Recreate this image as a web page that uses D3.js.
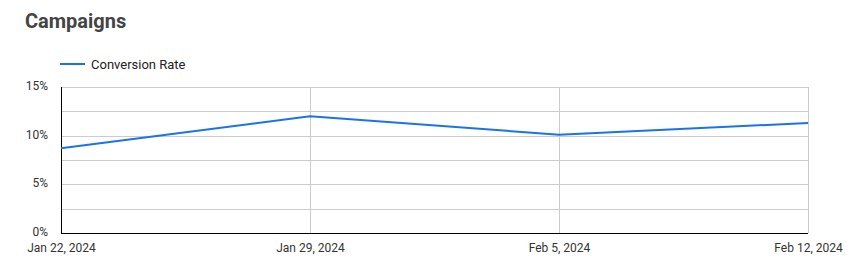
<!DOCTYPE html>
<html>
<head>
<meta charset="utf-8">
<script src="https://cdn.jsdelivr.net/npm/d3@7"></script>
<style>
	body { margin: 0; background: #fff; font-family: Roboto, "Noto Sans", sans-serif; }
	.grid line { stroke: #cccccc; stroke-width: 1; }
	.tick text { fill: #333; font-size: 12px; }
</style>
</head>
<body>
<div id="root"></div>
<script>
// chart data
const dates = ["2024-01-22", "2024-01-29", "2024-02-05", "2024-02-12"];
const conversionRate = [8.7, 12.0, 10.1, 11.3];
const yTicks = [0, 5, 10, 15];
const yGrid = [0, 2.5, 5, 7.5, 10, 12.5, 15];

function drawChart() {
	const width = 865;
	const height = 274;
	const margin = {top: 87, right: 57, bottom: 41, left: 61};

	const parse = d3.timeParse("%Y-%m-%d");
	const data = dates.map((d, i) => ({date: parse(d), value: conversionRate[i]}));

	let svg = d3.select("#root")
		.append("svg")
		.attr("width", width)
		.attr("height", height);

	// title
	svg.append("text")
		.attr("x", 25)
		.attr("y", 28)
		.attr("font-size", "20px")
		.attr("font-weight", "bold")
		.attr("fill", "#444")
		.text("Campaigns");

	// legend
	const legend = svg.append("g").attr("transform", "translate(60,64)");
	legend.append("line")
		.attr("x1", 0).attr("x2", 25)
		.attr("stroke", "#1a73e8")
		.attr("stroke-width", 2);
	legend.append("text")
		.attr("x", 31)
		.attr("y", 4.5)
		.attr("font-size", "13px")
		.attr("fill", "#222")
		.text("Conversion Rate");

	const x = d3.scaleTime()
		.domain(d3.extent(data, d => d.date))
		.range([margin.left, width - margin.right]);
	const y = d3.scaleLinear()
		.domain([0, 15])
		.range([height - margin.bottom, margin.top]);

	// horizontal grid
	svg.append("g").attr("class", "grid")
		.selectAll("line")
		.data(yGrid)
		.enter()
		.append("line")
		.attr("x1", margin.left).attr("x2", width - margin.right)
		.attr("y1", d => Math.round(y(d)) + 0.5)
		.attr("y2", d => Math.round(y(d)) + 0.5);

	// vertical grid
	svg.append("g").attr("class", "grid")
		.selectAll("line")
		.data(data.slice(1))
		.enter()
		.append("line")
		.attr("x1", d => Math.round(x(d.date)) + 0.5)
		.attr("x2", d => Math.round(x(d.date)) + 0.5)
		.attr("y1", margin.top).attr("y2", height - margin.bottom);

	// y axis labels
	const yAxis = svg.append("g")
		.attr("transform", `translate(${margin.left},0)`)
		.call(d3.axisLeft(y).tickValues(yTicks).tickSize(0).tickPadding(13).tickFormat(d => d + "%"));
	yAxis.select(".domain").remove();
	yAxis.selectAll(".tick text").attr("font-family", "Roboto, sans-serif").attr("dy", "0.2em");

	// x axis labels
	const xAxis = svg.append("g")
		.attr("transform", `translate(0,${height - margin.bottom})`)
		.call(d3.axisBottom(x).tickValues(data.map(d => d.date)).tickSize(0).tickPadding(10)
			.tickFormat(d3.timeFormat("%b %-d, %Y")));
	xAxis.select(".domain").remove();
	xAxis.selectAll(".tick text").attr("font-family", "Roboto, sans-serif");

	// axis lines
	svg.append("line")
		.attr("x1", margin.left + 0.5).attr("x2", margin.left + 0.5)
		.attr("y1", margin.top).attr("y2", height - margin.bottom)
		.attr("stroke", "#000");
	svg.append("line")
		.attr("x1", margin.left).attr("x2", width - margin.right)
		.attr("y1", height - margin.bottom + 0.5).attr("y2", height - margin.bottom + 0.5)
		.attr("stroke", "#000");

	// series line
	svg.append("path")
		.datum(data)
		.attr("fill", "none")
		.attr("stroke", "#1a73e8")
		.attr("stroke-width", 2)
		.attr("d", d3.line().x(d => x(d.date)).y(d => y(d.value)));
}

drawChart();
</script>
</body>
</html>
